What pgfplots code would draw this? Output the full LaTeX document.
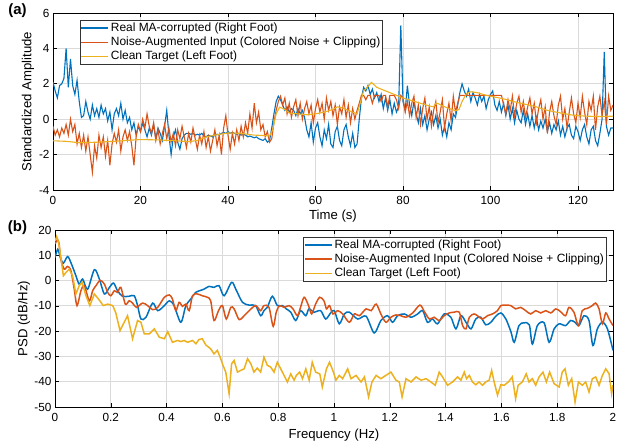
\documentclass[border=0pt]{standalone}
\usepackage{pgfplots}
\pgfplotsset{compat=1.18}
\usepackage{pgfplotstable}
\usepackage{fontspec}
\setmainfont{Liberation Sans}
\definecolor{mblue}{RGB}{0,114,189}
\definecolor{morange}{RGB}{217,83,25}
\definecolor{myellow}{RGB}{237,177,32}
\definecolor{mgrid}{RGB}{218,218,218}
\newcommand{\legfont}{\fontsize{12}{14}\selectfont}

\pgfplotstableread{
t b o
0 2.1 -0.4
0.5 1.6 -0.9
1 1.2 -0.6
1.5 1.9 -1.0
2 2.0 -0.5
2.5 2.3 -0.8
3 4.0 -0.3
3.5 1.8 -0.9
4 3.4 0.0
4.5 1.9 -0.7
5 1.4 -0.3
5.5 2.2 -1.4
6 1.0 -0.8
6.5 0.1 -1.6
7 0.2 -0.9
7.5 1.0 -1.8
8 0.4 -1.0
8.5 0.0 -2.0
9 0.8 -3.0
9.5 0.2 -1.5
10 0.6 -2.2
10.5 0.1 -0.9
11 0.8 -1.6
11.5 0.3 -1.0
12 0.6 -2.1
12.5 -0.1 -1.2
13 0.4 -2.6
13.5 -0.6 -1.4
14 0.3 -0.8
14.5 0.6 -1.3
15 0.2 -0.6
15.5 0.9 -1.8
16 0.0 -1.0
16.5 0.5 -0.6
17 -0.2 -1.2
17.5 0.1 -0.7
18 -0.6 -1.5
18.5 -0.2 -2.6
19 -0.9 -1.0
19.5 -0.4 -0.3
20 -0.7 -0.7
20.5 -0.2 0.0
21 -0.6 -0.5
21.5 -1.0 0.3
22 -0.5 -0.4
22.5 -0.9 -0.8
23 -0.3 -0.2
23.5 -1.1 -1.2
24 -0.5 -0.6
24.5 -0.8 -1.4
25 -1.2 -0.8
25.5 -0.4 -0.3
26 0.5 -1.1
26.5 -0.9 -0.5
27 -2.0 -1.3
27.5 -1.0 -0.8
28 -0.6 -1.5
28.5 -1.3 -0.6
29 -1.7 -1.1
29.5 -1.1 -0.4
30 -0.9 -1.0
30.5 -0.8 -1.6
31 -0.8 -0.8
31.5 -0.85 -1.3
32 -0.8 -0.5
32.5 -0.9 -1.1
33 -0.85 -1.7
33.5 -0.9 -0.9
34 -0.8 -1.4
34.5 -0.95 -0.7
35 -1.0 -1.6
35.5 -0.9 -1.0
36 -0.95 -1.8
36.5 -1.0 -1.2
37 -0.9 -0.6
37.5 -0.85 -1.5
38 -0.9 -0.9
38.5 -0.8 -2.0
39 -0.75 -0.5
39.5 -0.8 0.2
40 -0.7 -0.9
40.5 -0.8 -1.7
41 -0.75 -0.8
41.5 -0.8 -1.4
42 -0.85 -0.6
42.5 -0.8 -1.2
43 -0.9 -0.4
43.5 -0.85 -1.0
44 -0.9 -0.2
44.5 -1.0 -0.8
45 -0.95 0.3
45.5 -1.0 -0.5
46 -1.05 0.9
46.5 -1.0 -0.2
47 -1.1 0.4
47.5 -1.15 -0.6
48 -1.2 -0.3
48.5 -1.1 -1.0
49 -1.3 -0.7
49.5 -1.2 -1.3
50 -0.5 -1.1
50.5 0.3 -0.2
51 1.0 0.5
51.5 1.3 1.0
52 1.1 1.3
52.5 0.8 0.8
53 0.5 1.2
53.5 0.7 0.3
54 0.4 0.9
54.5 0.6 0.1
55 0.5 0.7
55.5 0.2 1.1
56 0.6 0.2
56.5 0.3 0.9
57 0.5 0.0
57.5 0.1 0.6
58 -0.6 1.0
58.5 -1.0 0.3
59 -0.2 0.8
59.5 -1.3 -0.2
60 -0.5 0.6
60.5 -0.2 1.1
61 -1.0 0.4
61.5 -1.5 0.9
62 -0.6 0.0
62.5 -1.1 1.2
63 -0.3 0.5
63.5 -1.4 1.0
64 -1.6 0.2
64.5 -0.7 0.8
65 -0.4 -0.3
65.5 -1.2 0.7
66 -1.5 0.3
66.5 -0.6 1.1
67 -0.3 0.1
67.5 -1.0 0.8
68 -1.5 -0.2
68.5 -0.8 0.6
69 -1.6 0.0
69.5 -1.4 0.5
70 0.0 0.9
70.5 1.2 1.35
71 1.8 1.35
71.5 1.6 1.1
72 1.9 1.35
72.5 1.4 1.35
73 1.7 0.9
73.5 1.2 1.35
74 1.5 1.35
74.5 1.0 1.35
75 1.4 1.0
75.5 0.6 1.35
76 1.2 1.35
76.5 0.5 0.7
77 1.1 1.35
77.5 0.3 1.35
78 0.9 1.35
78.5 0.4 1.1
79 0.7 0.6
79.5 5.3 1.35
80 1.0 1.2
80.5 0.5 0.4
81 1.9 1.0
81.5 0.8 0.2
82 0.2 0.9
82.5 1.0 1.3
83 0.3 0.1
83.5 -0.2 0.8
84 0.6 -0.3
84.5 -0.3 0.6
85 0.2 1.2
85.5 -0.6 0.0
86 0.0 0.7
86.5 0.4 -0.4
87 -0.3 0.5
87.5 0.2 1.0
88 -0.5 -0.2
88.5 0.0 0.4
89 -0.9 1.1
89.5 -0.4 -0.5
90 -1.0 0.3
90.5 -0.2 0.9
91 -0.6 -0.1
91.5 0.3 1.3
92 0.1 0.4
92.5 0.8 0.9
93 1.5 1.35
93.5 2.0 1.35
94 1.6 1.35
94.5 1.3 1.35
95 1.7 1.35
95.5 1.0 1.35
96 1.5 1.35
96.5 1.2 1.35
97 0.8 1.35
97.5 1.4 1.35
98 1.0 1.35
98.5 1.3 1.35
99 0.6 1.35
99.5 1.1 1.35
100 1.4 1.35
100.5 1.6 1.35
101 0.8 1.35
101.5 0.5 1.35
102 1.0 1.35
102.5 0.4 1.35
103 0.9 0.8
103.5 0.2 0.3
104 0.8 1.1
104.5 0.0 0.5
105 0.6 1.3
105.5 -0.2 0.2
106 0.5 0.9
106.5 0.0 1.3
107 -0.2 0.4
107.5 0.5 1.0
108 -0.3 0.1
108.5 0.3 0.7
109 -0.4 1.2
109.5 0.2 0.3
110 -0.5 0.9
110.5 0.1 -0.2
111 -0.6 0.6
111.5 -0.1 1.1
112 -0.5 0.0
112.5 0.0 0.7
113 -0.7 -0.8
113.5 -0.2 0.4
114 -0.8 1.0
114.5 -0.3 0.2
115 -0.6 -0.3
115.5 -0.1 0.8
116 -0.9 1.3
116.5 -0.4 0.0
117 -1.0 0.6
117.5 -0.5 -0.5
118 -0.3 0.4
118.5 -0.9 1.2
119 -1.1 0.3
119.5 -0.4 -0.2
120 -0.7 0.9
120.5 -1.2 0.1
121 -0.6 1.3
121.5 -0.3 0.4
122 -1.0 -0.3
122.5 -1.4 1.0
123 -0.6 0.5
123.5 -0.4 1.3
124 -1.2 -0.6
124.5 -1.5 0.7
125 -0.8 1.3
125.5 0.0 0.2
126 3.8 1.0
126.5 -0.4 -0.3
127 -0.9 1.3
127.5 -0.5 0.5
128 -0.5 0.8
}\topdata

\pgfplotsset{mstyle/.style={
  scale only axis, anchor=south west,
  tick align=inside, major tick length=4bp,
  grid=major, major grid style={mgrid, line width=0.9bp},
  axis line style={black, line width=0.7bp},
  tick style={black, line width=0.6bp},
  ticklabel style={font=\fontsize{11.8}{14}\selectfont},
  xticklabel style={yshift=-2.5bp},
  label style={font=\fontsize{13.2}{15}\selectfont},
  /pgf/number format/assume math mode=true,
  legend cell align=left,
  legend image code/.code={\draw[##1] (0bp,0bp) -- (27bp,0bp);},
}}

\begin{document}
\begin{tikzpicture}
\useasboundingbox (0,0) rectangle (617bp,447bp);
\begin{axis}[mstyle, at={(53bp,257bp)}, width=560bp, height=177bp,
  xmin=0, xmax=128, ymin=-4, ymax=6,
  xtick={0,20,40,60,80,100,120}, ytick={-4,-2,0,2,4,6},
  xlabel={Time (s)}, ylabel={Standardized Amplitude},
  xlabel style={at={(axis description cs:0.5,-0.145)}, anchor=center},
  ylabel style={at={(axis description cs:-0.0446,0.5)}, anchor=center},
  legend style={font=\legfont, draw=black!80, line width=0.8bp, inner sep=0.5pt, at={(axis description cs:0.048,0.96)}, anchor=north west},
  legend image post style={line width=1.1bp},
]
\addplot[mblue, line width=1.1bp] table[x=t, y=b] {\topdata};
\addlegendentry{Real MA-corrupted (Right Foot)}
\addplot[morange, line width=1.1bp] table[x=t, y=o] {\topdata};
\addlegendentry{Noise-Augmented Input (Colored Noise + Clipping)}
\addplot[myellow, line width=1.1bp] coordinates {(0,-1.22)(3,-1.25)(6,-1.33)(10,-1.3)(14,-1.25)(18,-1.18)(20,-1.15)(24,-1.17)(28,-1.22)(31,-1.27)(33,-1.2)(35,-1.0)(37,-0.9)(40,-0.78)(43,-0.8)(46,-0.9)(48,-0.92)(49.5,-0.95)(50.2,-0.6)(51,0.3)(51.8,0.68)(53,0.55)(54,0.35)(56,0.3)(58,0.25)(60,0.3)(62,0.4)(64,0.55)(65,0.7)(66,0.65)(68,0.45)(69.5,0.3)(70.2,0.9)(71,1.6)(72,1.85)(72.8,2.08)(74,1.8)(76,1.6)(78,1.4)(80,1.2)(82,1.05)(84,0.9)(86,0.75)(87,0.7)(87.5,0.9)(88,0.88)(90,0.65)(92,0.48)(92.8,0.55)(93.5,1.0)(94.5,1.45)(95.5,1.55)(97,1.5)(99,1.35)(101,1.25)(103,1.15)(106,0.95)(110,0.73)(113,0.5)(116,0.35)(119,0.22)(122,0.17)(125,0.15)(128,0.17)};
\addlegendentry{Clean Target (Left Foot)}
\end{axis}

\begin{axis}[mstyle, at={(55bp,40bp)}, width=558bp, height=177bp,
  xmin=0, xmax=2, ymin=-50, ymax=20,
  xtick={0,0.2,0.4,0.6,0.8,1,1.2,1.4,1.6,1.8,2}, ytick={-50,-40,-30,-20,-10,0,10,20},
  xlabel={Frequency (Hz)}, ylabel={PSD (dB/Hz)},
  xlabel style={at={(axis description cs:0.5,-0.158)}, anchor=center},
  ylabel style={at={(axis description cs:-0.0556,0.5)}, anchor=center},
  legend style={font=\legfont, draw=black!80, line width=0.8bp, inner sep=0.5pt, at={(axis description cs:0.989,0.96)}, anchor=north east},
  legend image post style={line width=1.5bp},
]
\addplot[mblue, line width=1.5bp, smooth, tension=0.5] coordinates {(0,9.1)(0.01,12.4)(0.019,9.1)(0.03,6.9)(0.045,9.5)(0.057,7.1)(0.075,1.9)(0.087,-1.5)(0.099,0.6)(0.117,-3.4)(0.141,4.3)(0.159,0.6)(0.177,-5.3)(0.195,-2.7)(0.21,-1)(0.224,-4)(0.242,-6.2)(0.266,-6.2)(0.284,-6)(0.296,-9.9)(0.308,-15.2)(0.326,-14.5)(0.35,-8.9)(0.368,-11.9)(0.392,-9.9)(0.41,-8)(0.427,-9.9)(0.451,-16.5)(0.469,-9.9)(0.487,-7.3)(0.504,-4.7)(0.534,-3.4)(0.552,-2.3)(0.57,-2.7)(0.588,-2.0)(0.606,-6)(0.633,-0.7)(0.648,-3.4)(0.672,-8.6)(0.696,-9.7)(0.719,-9.9)(0.737,-13.9)(0.749,-11.9)(0.761,-10.6)(0.779,-6.2)(0.797,-9.9)(0.815,-9.9)(0.829,-11.2)(0.845,-12.5)(0.863,-15.8)(0.88,-11.9)(0.899,-13.9)(0.91,-11.2)(0.928,-12.5)(0.952,-11.9)(0.97,-15.2)(0.988,-12.8)(1.001,-11.9)(1.019,-17.1)(1.037,-13.2)(1.055,-12.5)(1.085,-15.2)(1.115,-14.1)(1.144,-20.7)(1.168,-15.8)(1.192,-13.9)(1.21,-16.5)(1.228,-13.9)(1.252,-13.2)(1.276,-14.5)(1.3,-13.2)(1.318,-11.9)(1.335,-16.5)(1.353,-15.2)(1.371,-17.1)(1.395,-13.2)(1.419,-14.5)(1.437,-19.1)(1.455,-13.9)(1.473,-16.5)(1.491,-19.1)(1.508,-15.2)(1.526,-14.5)(1.544,-17.5)(1.562,-16.5)(1.58,-14.1)(1.598,-12.8)(1.616,-15.2)(1.634,-20.2)(1.646,-24.4)(1.663,-17.8)(1.681,-16.7)(1.7,-17.5)(1.711,-25.1)(1.729,-17.8)(1.753,-16.7)(1.771,-24.4)(1.789,-19.1)(1.807,-17.1)(1.83,-17.8)(1.848,-15.8)(1.864,-16.5)(1.878,-17.8)(1.896,-13.9)(1.914,-15.8)(1.928,-25.7)(1.944,-19.1)(1.962,-16.5)(1.98,-19.1)(2.0,-27.6)};
\addlegendentry{Real MA-corrupted (Right Foot)}
\addplot[morange, line width=1.5bp, smooth, tension=0.5] coordinates {(0,14.5)(0.008,16)(0.014,15)(0.021,8.5)(0.033,4.5)(0.045,5.6)(0.057,3.9)(0.069,-3.4)(0.079,-9.9)(0.093,-4)(0.105,-2)(0.123,-8)(0.135,-4)(0.147,-2)(0.162,0.1)(0.177,-1.4)(0.189,-4.7)(0.2,-6)(0.213,-4)(0.224,-4.7)(0.236,-2.7)(0.252,-9.3)(0.266,-8)(0.278,-8.9)(0.292,-10.6)(0.314,-8.9)(0.332,-9.9)(0.35,-11.5)(0.368,-10.6)(0.392,-6.6)(0.41,-5.7)(0.421,-7.3)(0.433,-11.9)(0.445,-8.6)(0.457,-10.2)(0.469,-9.3)(0.481,-11.9)(0.493,-6)(0.51,-5.3)(0.528,-6)(0.546,-6.6)(0.558,-8)(0.57,-15.8)(0.586,-11.9)(0.6,-9.9)(0.614,-15.2)(0.63,-10.6)(0.642,-11.2)(0.66,-15.4)(0.678,-13.9)(0.696,-11.9)(0.719,-9.9)(0.737,-11.9)(0.749,-9.9)(0.767,-10.6)(0.782,-18.1)(0.793,-12.5)(0.805,-9.9)(0.821,-10.6)(0.839,-9.9)(0.853,-11.2)(0.869,-13.9)(0.88,-10.6)(0.893,-6.6)(0.908,-9.7)(0.92,-13.2)(0.934,-9.3)(0.949,-6.6)(0.964,-8)(0.973,-11.2)(0.984,-9.9)(0.996,-13.2)(1.013,-11.9)(1.031,-13.2)(1.055,-16.5)(1.073,-13.2)(1.091,-13.9)(1.115,-11.2)(1.133,-11.9)(1.151,-9.3)(1.168,-13.2)(1.186,-16.5)(1.204,-14.5)(1.222,-13.6)(1.24,-13.9)(1.258,-14.5)(1.282,-12.8)(1.308,-9.7)(1.324,-12.3)(1.342,-15.2)(1.359,-14.5)(1.377,-15.8)(1.395,-13.9)(1.413,-12.8)(1.431,-12.5)(1.449,-12.5)(1.461,-17.8)(1.473,-19.1)(1.485,-14.5)(1.502,-13.2)(1.514,-13.9)(1.532,-15.2)(1.55,-13.9)(1.568,-13.2)(1.586,-11.9)(1.598,-9.9)(1.616,-9.7)(1.634,-9.9)(1.651,-11.2)(1.669,-10.6)(1.687,-11.9)(1.705,-13.2)(1.723,-11.9)(1.741,-12.8)(1.759,-11.9)(1.777,-12.8)(1.795,-11.2)(1.812,-12.3)(1.83,-13.9)(1.842,-10.6)(1.86,-12.5)(1.876,-17.8)(1.89,-11.9)(1.908,-11)(1.926,-9.9)(1.938,-8.9)(1.95,-11.2)(1.962,-17.1)(1.974,-12.8)(1.986,-15.2)(2.0,-17.8)};
\addlegendentry{Noise-Augmented Input (Colored Noise + Clipping)}
\addplot[myellow, line width=1.5bp] coordinates {(0,15.7)(0.006,17.4)(0.013,15)(0.021,9.1)(0.03,1.9)(0.039,3.2)(0.051,4.5)(0.063,1.9)(0.075,-5.3)(0.087,-2)(0.097,-0.7)(0.111,-6)(0.125,-9.9)(0.141,-5.3)(0.156,-7.3)(0.173,-9.9)(0.189,-9.3)(0.207,-9.9)(0.218,-12.8)(0.233,-19.8)(0.248,-16.5)(0.26,-13.9)(0.278,-23)(0.296,-15.8)(0.308,-16.5)(0.32,-21.1)(0.338,-21.1)(0.356,-19.1)(0.374,-22.4)(0.392,-23)(0.404,-20.2)(0.421,-24.4)(0.439,-23.7)(0.451,-24.1)(0.463,-23.7)(0.475,-24.4)(0.493,-23.7)(0.505,-25)(0.516,-23.3)(0.528,-23)(0.54,-25.4)(0.558,-27)(0.57,-29)(0.582,-27.6)(0.594,-30.9)(0.602,-33.5)(0.612,-36.2)(0.624,-44.7)(0.633,-32.9)(0.642,-31.6)(0.654,-36.2)(0.666,-35.5)(0.678,-34.9)(0.69,-30.9)(0.702,-32.9)(0.713,-36.2)(0.725,-34.6)(0.737,-36.2)(0.749,-30.3)(0.761,-33.5)(0.773,-34.2)(0.785,-36.2)(0.797,-32.3)(0.809,-34.9)(0.821,-37.5)(0.833,-40.1)(0.845,-36.9)(0.857,-39.4)(0.865,-37.5)(0.877,-36.2)(0.887,-38.8)(0.899,-34.9)(0.911,-39.4)(0.922,-32.3)(0.934,-36.2)(0.949,-36.9)(0.958,-42.1)(0.973,-34.9)(0.984,-32.3)(0.998,-36.2)(1.007,-39.4)(1.019,-37.5)(1.031,-38.8)(1.049,-34.9)(1.061,-38.8)(1.079,-37.5)(1.097,-40.1)(1.109,-38.1)(1.124,-46)(1.136,-40.1)(1.151,-37.5)(1.168,-38.8)(1.186,-37.5)(1.204,-36.2)(1.222,-39.4)(1.234,-40.1)(1.244,-46)(1.258,-38.8)(1.276,-40.1)(1.294,-38.1)(1.312,-39.4)(1.33,-38.8)(1.347,-40.1)(1.363,-41.4)(1.377,-36.2)(1.389,-38.1)(1.407,-41.4)(1.425,-40.1)(1.443,-38.1)(1.455,-39.4)(1.467,-36.2)(1.475,-38.8)(1.485,-37.5)(1.496,-40.1)(1.508,-41.2)(1.52,-40.1)(1.532,-41.4)(1.544,-40.1)(1.556,-39.4)(1.565,-35.5)(1.574,-40.1)(1.586,-45.3)(1.598,-41.2)(1.61,-41.4)(1.625,-40.1)(1.639,-38.1)(1.651,-46.7)(1.66,-41.4)(1.675,-40.1)(1.689,-36.9)(1.699,-40.1)(1.711,-38.8)(1.723,-41.4)(1.735,-38.1)(1.749,-36.2)(1.761,-40.1)(1.773,-36.2)(1.789,-40.8)(1.807,-42.1)(1.818,-36.2)(1.828,-34.9)(1.84,-41.4)(1.852,-38.8)(1.864,-48)(1.876,-40.1)(1.89,-41.4)(1.902,-40.1)(1.914,-44.1)(1.926,-38.8)(1.938,-38.1)(1.95,-41.4)(1.962,-37.5)(1.974,-34.9)(1.986,-36.9)(1.995,-44.7)(2.0,-41.4)};
\addlegendentry{Clean Target (Left Foot)}
\end{axis}
\node[font=\bfseries\fontsize{15}{17}\selectfont] at (17.5bp,436bp) {(a)};
\node[font=\bfseries\fontsize{15}{17}\selectfont] at (17.5bp,219.5bp) {(b)};
\end{tikzpicture}
\end{document}
